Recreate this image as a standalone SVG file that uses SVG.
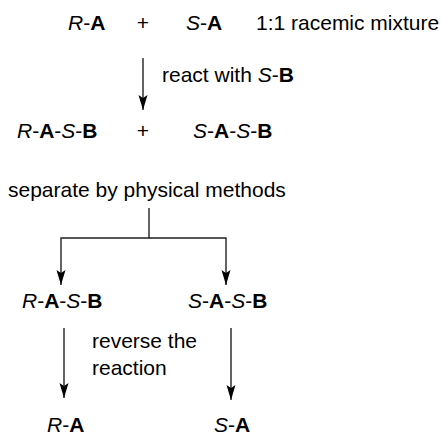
<svg xmlns="http://www.w3.org/2000/svg" width="441" height="448" viewBox="0 0 441 448">
<defs>
<style>
text{font-family:"Liberation Sans",Arial,sans-serif;font-size:21px;fill:#000}
.i{font-style:italic}
.b{font-weight:bold}
.ln{stroke:#222;stroke-width:1.4;fill:none}
</style>
<marker id="ah" markerUnits="userSpaceOnUse" viewBox="0 -5 16 10" refX="15" refY="0" markerWidth="16" markerHeight="10" orient="auto">
<path d="M0,-4.5 L15,0 L0,4.5 L3,0 z" fill="#000"/>
</marker>
</defs>
<rect width="441" height="448" fill="#fff"/>
<g id="connectors">
<line class="ln" x1="143" y1="58" x2="143" y2="110" marker-end="url(#ah)"/>
<polyline class="ln" points="149,208 149,238 61,238 61,285" marker-end="url(#ah)"/>
<polyline class="ln" points="149,238 226,238 226,285" marker-end="url(#ah)"/>
<line class="ln" x1="64" y1="328" x2="64" y2="398" marker-end="url(#ah)"/>
<line class="ln" x1="231" y1="328" x2="231" y2="400" marker-end="url(#ah)"/>
</g>
<g id="row1">
<text x="68" y="30"><tspan class="i">R</tspan>-<tspan class="b">A</tspan></text>
<text x="143" y="30" text-anchor="middle">+</text>
<text x="186" y="30"><tspan class="i">S</tspan>-<tspan class="b">A</tspan></text>
<text x="256" y="30">1:1 racemic mixture</text>
</g>
<g id="label-react">
<text x="162" y="82">react with <tspan class="i">S</tspan>-<tspan class="b">B</tspan></text>
</g>
<g id="row2">
<text x="17" y="138"><tspan class="i">R</tspan>-<tspan class="b">A</tspan>-<tspan class="i">S</tspan>-<tspan class="b">B</tspan></text>
<text x="143" y="138" text-anchor="middle">+</text>
<text x="193" y="138"><tspan class="i">S</tspan>-<tspan class="b">A</tspan>-<tspan class="i">S</tspan>-<tspan class="b">B</tspan></text>
</g>
<g id="label-separate">
<text x="8" y="197">separate by physical methods</text>
</g>
<g id="row3">
<text x="22" y="308"><tspan class="i">R</tspan>-<tspan class="b">A</tspan>-<tspan class="i">S</tspan>-<tspan class="b">B</tspan></text>
<text x="188" y="308"><tspan class="i">S</tspan>-<tspan class="b">A</tspan>-<tspan class="i">S</tspan>-<tspan class="b">B</tspan></text>
</g>
<g id="label-reverse">
<text x="92" y="348">reverse the</text>
<text x="92" y="375">reaction</text>
</g>
<g id="row4">
<text x="47" y="432"><tspan class="i">R</tspan>-<tspan class="b">A</tspan></text>
<text x="214" y="432"><tspan class="i">S</tspan>-<tspan class="b">A</tspan></text>
</g>
</svg>
